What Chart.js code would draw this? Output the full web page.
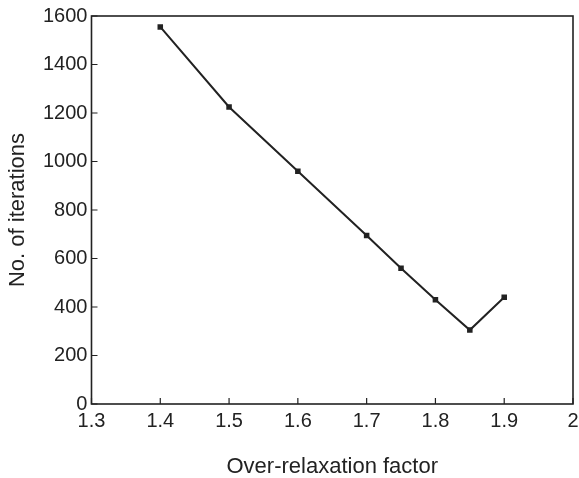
<!DOCTYPE html>
<html>
<head>
<meta charset="utf-8">
<script src="https://cdn.jsdelivr.net/npm/chart.js@4/dist/chart.umd.min.js"></script>
<style>
  html, body { margin: 0; padding: 0; background: #fff; }
  #wrap { width: 579px; height: 478px; }
</style>
</head>
<body>
<div id="wrap"><canvas id="chart"></canvas></div>
<script>
// over-relaxation factor vs number of iterations
const factors = [1.4, 1.5, 1.6, 1.7, 1.75, 1.8, 1.85, 1.9];
const iterations = [1555, 1225, 960, 695, 560, 430, 305, 440];
const xTicks = [1.3, 1.4, 1.5, 1.6, 1.7, 1.8, 1.9, 2];
const yTicks = [0, 200, 400, 600, 800, 1000, 1200, 1400, 1600];

const ink = '#222';
const fontFamily = '"Liberation Sans", Arial, sans-serif';

// box round the plot + inward tick marks
const framePlugin = {
    id: 'frame',
    afterDraw(chart) {
        const { ctx, chartArea: a, scales } = chart;
        ctx.save();
        ctx.strokeStyle = ink;
        ctx.lineWidth = 1.6;
        ctx.strokeRect(a.left, a.top, a.right - a.left, a.bottom - a.top);
        ctx.lineWidth = 1.2;
        ctx.beginPath();
        xTicks.forEach(v => {
            const x = scales.x.getPixelForValue(v);
            ctx.moveTo(x, a.bottom);
            ctx.lineTo(x, a.bottom - 6);
        });
        yTicks.forEach(v => {
            const y = scales.y.getPixelForValue(v);
            ctx.moveTo(a.left, y);
            ctx.lineTo(a.left + 6, y);
        });
        ctx.stroke();
        ctx.restore();
    }
};

new Chart(document.getElementById('chart'), {
    type: 'line',
    data: {
        datasets: [{
            data: factors.map((f, i) => ({ x: f, y: iterations[i] })),
            borderColor: ink,
            backgroundColor: ink,
            borderWidth: 2,
            pointStyle: 'rect',
            pointRadius: 2.5,
            tension: 0
        }]
    },
    options: {
        responsive: true,
        maintainAspectRatio: false,
        animation: false,
        layout: { padding: { top: 4, left: 7, right: 0, bottom: 0 } },
        plugins: {
            legend: { display: false },
            tooltip: { enabled: false }
        },
        scales: {
            x: {
                type: 'linear',
                min: 1.3,
                max: 2,
                afterBuildTicks: s => { s.ticks = xTicks.map(v => ({ value: v })); },
                // let the "2" label hang a little past the frame, as in the original
                afterFit: s => { s.paddingRight = 6; },
                grid: { display: false, drawTicks: false, tickLength: 0 },
                border: { display: false },
                ticks: {
                    color: ink,
                    font: { family: fontFamily, size: 20 },
                    padding: 5,
                    maxRotation: 0,
                    callback: v => String(+v.toFixed(1))
                },
                title: {
                    display: true,
                    text: 'Over-relaxation factor',
                    color: ink,
                    font: { family: fontFamily, size: 22, lineHeight: 1 },
                    padding: { top: 18, bottom: 0 }
                }
            },
            y: {
                min: 0,
                max: 1600,
                afterBuildTicks: s => { s.ticks = yTicks.map(v => ({ value: v })); },
                grid: { display: false, drawTicks: false, tickLength: 0 },
                border: { display: false },
                ticks: {
                    color: ink,
                    font: { family: fontFamily, size: 20 },
                    padding: 4,
                    callback: v => String(v)
                },
                title: {
                    display: true,
                    text: 'No. of iterations',
                    color: ink,
                    font: { family: fontFamily, size: 22, lineHeight: 1 },
                    padding: { top: 0, bottom: 10 }
                }
            }
        }
    },
    plugins: [framePlugin]
});
</script>
</body>
</html>
